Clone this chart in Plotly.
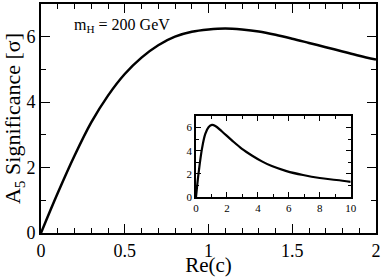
import plotly.graph_objects as go

# main panel: A5 significance vs Re(c)
main_x = [0, 0.1, 0.2, 0.3, 0.4, 0.5, 0.6, 0.7, 0.8, 0.9, 1.0, 1.1, 1.2, 1.3, 1.4, 1.5, 1.6, 1.7, 1.8, 1.9, 2.0]
main_y = [0, 1.22, 2.36, 3.38, 4.2, 4.86, 5.36, 5.74, 6.0, 6.15, 6.22, 6.25, 6.22, 6.16, 6.06, 5.94, 5.81, 5.68, 5.55, 5.42, 5.3]

# inset: wider range of Re(c)
inset_x = [0, 0.17, 0.39, 0.6, 0.82, 1.03, 1.25, 1.68, 2.32, 2.97, 3.61, 4.26, 4.9, 5.85, 6.92, 8.0, 9.08, 10]
inset_y = [0, 2.1, 4.2, 5.45, 6.05, 6.23, 6.14, 5.66, 4.89, 4.16, 3.59, 3.08, 2.67, 2.24, 1.9, 1.64, 1.47, 1.3]

main_xticks = [0, 0.5, 1, 1.5, 2]
main_yticks = [0, 2, 4, 6]
inset_xticks = [0, 2, 4, 6, 8, 10]
inset_yticks = [0, 2, 4, 6]

FONT = "Liberation Serif, Times New Roman, Times, serif"

fig = go.Figure()
fig.add_trace(go.Scatter(x=main_x, y=main_y, mode="lines",
                         line=dict(color="black", width=2.5, shape="spline"),
                         xaxis="x", yaxis="y", showlegend=False))
fig.add_trace(go.Scatter(x=inset_x, y=inset_y, mode="lines",
                         line=dict(color="black", width=2.2, shape="spline"),
                         xaxis="x2", yaxis="y2", showlegend=False))

axis_common = dict(showline=True, linecolor="black", mirror="allticks",
                   ticks="inside", tickcolor="black", showgrid=False,
                   zeroline=False, automargin=False)

fig.update_layout(
    width=382, height=277,
    margin=dict(l=41, r=6, t=4, b=44),
    paper_bgcolor="white", plot_bgcolor="white",
    font=dict(family=FONT, color="black"),
    xaxis=dict(range=[0, 2], tickvals=main_xticks, linewidth=2,
               ticklen=9, tickwidth=1.2,
               minor=dict(ticks="inside", dtick=0.1, ticklen=5, tickcolor="black", tickwidth=1.2),
               tickfont=dict(size=18, family=FONT),
               title=dict(text="Re(c)", font=dict(size=21, family=FONT), standoff=3),
               **axis_common),
    yaxis=dict(range=[0, 7], tickvals=main_yticks, linewidth=2,
               ticklen=9, tickwidth=1.2,
               minor=dict(ticks="inside", dtick=1, ticklen=5, tickcolor="black", tickwidth=1.2),
               tickfont=dict(size=18, family=FONT),
               title=dict(text="A<sub>5</sub> Significance [σ]", font=dict(size=22, family=FONT), standoff=5),
               **axis_common),
    xaxis2=dict(domain=[0.4627, 0.9245], anchor="y2", range=[0, 10],
                tickvals=inset_xticks, linewidth=1.8, ticklen=5, tickwidth=1,
                minor=dict(ticks="inside", dtick=1, ticklen=3, tickcolor="black", tickwidth=1),
                tickfont=dict(size=11, family=FONT),
                **axis_common),
    yaxis2=dict(domain=[0.1572, 0.511], anchor="x2", range=[0, 7],
                tickvals=inset_yticks, linewidth=1.8, ticklen=5, tickwidth=1,
                minor=dict(ticks="inside", dtick=1, ticklen=3, tickcolor="black", tickwidth=1),
                tickfont=dict(size=11, family=FONT),
                **axis_common),
    shapes=[dict(type="rect", xref="x2 domain", yref="y2 domain", x0=0, x1=1, y0=0, y1=1,
                 fillcolor="white", line=dict(width=0), layer="below")],
    annotations=[dict(text="m<sub>H</sub> = 200 GeV", x=0.0925, y=0.908, xref="paper", yref="paper",
                      xanchor="left", yanchor="middle", showarrow=False,
                      font=dict(size=16, family=FONT, color="black"))],
)

fig.write_html("out.html", config={"displayModeBar": False},
               post_script="document.body.style.margin='0';document.body.style.padding='0';")
